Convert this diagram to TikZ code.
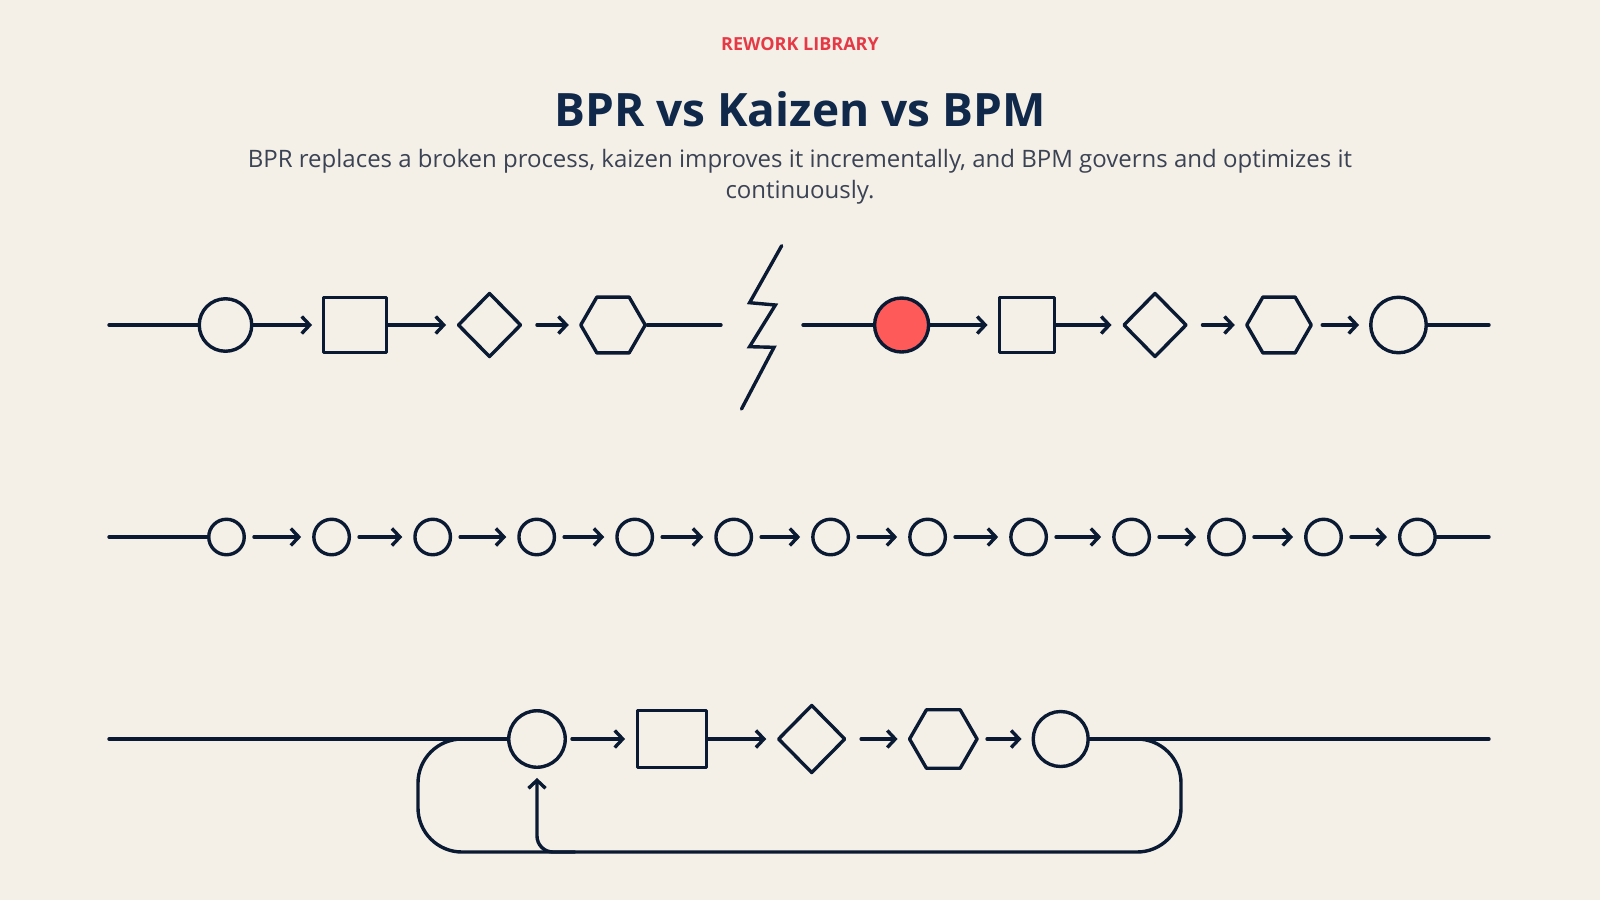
\documentclass[tikz,border=0pt]{standalone}
\usepackage{fontspec}
\setmainfont{Open Sans}
\usetikzlibrary{arrows.meta,shapes.geometric}

\definecolor{paper}{HTML}{F4F0E8}
\definecolor{ink}{HTML}{0B1A33}
\definecolor{navy}{HTML}{10284A}
\definecolor{slate}{HTML}{3A4253}
\definecolor{tagred}{HTML}{E63946}
\definecolor{hot}{HTML}{FF5A5A}

\begin{document}
\begin{tikzpicture}[
  x=1pt,y=-1pt,
  pline/.style={line width=3.4pt,draw=ink,line cap=round,line join=round},
  ar/.style={pline,-{Straight Barb[length=8pt,width=17pt]},shorten >=10pt},
  shp/.style={pline,fill=paper,inner sep=0pt},
  evt/.style={shp,circle,minimum size=52.5pt},
  tick/.style={shp,circle,minimum size=35.5pt},
  task/.style={shp,rectangle,minimum width=62.5pt,minimum height=54.5pt},
  gate/.style={shp,diamond,minimum width=63.5pt,minimum height=64.5pt},
  hexa/.style={shp,regular polygon,regular polygon sides=6,minimum size=64.5pt},
  tag/.style={font=\bfseries\fontsize{18}{20}\selectfont,text=tagred},
  headline/.style={font=\bfseries\fontsize{46}{50}\selectfont,text=navy},
  lede/.style={font=\fontsize{24}{31}\selectfont,text=slate,align=center}
]

%%%%%%%%%%%%%%%%%%%%%% canvas and heading %%%%%%%%%%%%%%%%%%%%%%%%%%%%%%%%%
\fill[paper] (0,0) rectangle (1600,900);
\useasboundingbox (0,0) rectangle (1600,900);

\node[tag]      (kicker) at (800,44)  {REWORK LIBRARY};
\node[headline] (title)  at (800,109) {BPR vs Kaizen vs BPM};
\node[lede]     (blurb)  at (800,176.5) {BPR replaces a broken process, kaizen improves it incrementally, and BPM governs and optimizes it\\continuously.};

%%%%%%%%%%%%%%%%%%%%%% BPR: old process, break, new process %%%%%%%%%%%%%%%%
\coordinate (r1a) at (109,325);
\node[evt]                   (c1) at (225.5,325) {};
\node[task]                  (s1) at (355,325)   {};
\node[gate]                  (d1) at (489.5,325) {};
\node[hexa]                  (h1) at (613,325)   {};
\coordinate (r1b) at (721,325);

\draw[pline] (r1a) -- (c1);
\draw[ar] (c1) -- (s1);
\draw[ar] (s1) -- (d1);
\draw[ar,shorten <=14pt] (d1) -- (h1);
\draw[pline] (h1) -- (r1b);

% the break
\draw[pline,line join=miter] (781.7,245.7) -- (749.6,302.7) -- (775.4,305)
      -- (749.6,346.7) -- (774,347.3) -- (741.5,409);

\coordinate (r1c) at (803,325);
\node[evt,fill=hot,minimum size=54pt] (c2) at (901.6,325) {};
\node[task,minimum width=55.5pt]      (s2) at (1027,325)  {};
\node[gate]                           (d2) at (1155,325)  {};
\node[hexa]                           (h2) at (1279,325)  {};
\node[evt,minimum size=55.5pt]        (c3) at (1398.5,325) {};
\coordinate (r1d) at (1489,325);

\draw[pline] (r1c) -- (c2);
\draw[ar] (c2) -- (s2);
\draw[ar] (s2) -- (d2);
\draw[ar,shorten <=14pt] (d2) -- (h2);
\draw[ar,shorten <=9pt] (h2) -- (c3);
\draw[pline] (c3) -- (r1d);

%%%%%%%%%%%%%%%%%%%%%% Kaizen: many small steps %%%%%%%%%%%%%%%%%%%%%%%%%%%
\coordinate (r2a) at (109,537);
\foreach \x [count=\i] in {226.5,331.6,432.7,536.7,634.7,733.7,830.6,927.6,1028.6,1131.6,1226.5,1323.5,1417.4}
  \node[tick] (k\i) at (\x,537) {};
\coordinate (r2b) at (1489,537);

\draw[pline] (r2a) -- (k1);
\foreach \i [evaluate=\i as \j using int(\i+1)] in {1,...,12}
  \draw[ar,shorten <=8pt,shorten >=11pt] (k\i) -- (k\j);
\draw[pline] (k13) -- (r2b);

%%%%%%%%%%%%%%%%%%%%%% BPM: governed loop %%%%%%%%%%%%%%%%%%%%%%%%%%%%%%%%%
\coordinate (r3a) at (109,739);
\node[evt,minimum size=56.5pt]                        (c4) at (537,739)   {};
\node[task,minimum width=68.5pt,minimum height=57.5pt] (s3) at (672,739)   {};
\node[gate,minimum width=67.5pt,minimum height=68.5pt] (d3) at (811.7,739) {};
\node[hexa,minimum size=67.5pt]                       (h3) at (943.3,739) {};
\node[evt,minimum size=55pt]                          (c5) at (1060.7,739) {};
\coordinate (r3b) at (1489,739);

\draw[pline] (r3a) -- (c4);
\draw[ar,shorten <=5pt,shorten >=11pt] (c4) -- (s3);
\draw[ar] (s3) -- (d3);
\draw[ar,shorten <=14pt] (d3) -- (h3);
\draw[ar,shorten <=8pt] (h3) -- (c5);
\draw[pline] (c5) -- (r3b);

% feedback loop
\coordinate (lt) at (418,739);
\coordinate (lb) at (418,852);
\coordinate (rb) at (1181,852);
\coordinate (rt) at (1181,739);
\coordinate (fb) at (575,852);
\draw[pline,rounded corners=44pt] (c5.east) -- (rt) -- (rb) -- (lb) -- (lt) -- (c4.west);
\draw[ar,rounded corners=16pt,shorten >=9pt] (fb) -| (c4.south);
\end{tikzpicture}
\end{document}
